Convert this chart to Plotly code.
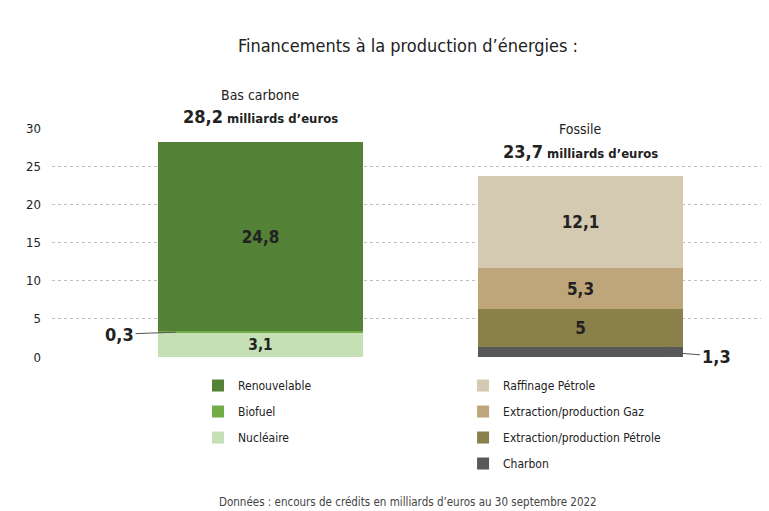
import plotly.graph_objects as go

# ---- data ----
groups = ["Bas carbone", "Fossile"]
group_x = [0, 1]
totals_label = ["28,2", "23,7"]

low_names = ["Nucléaire", "Biofuel", "Renouvelable"]          # bottom -> top
low_values = [3.1, 0.3, 24.8]
low_colors = ["#c5e0b4", "#70ad47", "#538135"]

fos_names = ["Charbon", "Extraction/production Pétrole", "Extraction/production Gaz", "Raffinage Pétrole"]
fos_values = [1.3, 5.0, 5.3, 12.1]
fos_colors = ["#595959", "#8a8049", "#bfa67a", "#d4c9b1"]

y_ticks = [0, 5, 10, 15, 20, 25, 30]

FONT = "DejaVu Sans Condensed, DejaVu Sans, sans-serif"
DARK = "#222222"


def F(size, color=DARK):
    return dict(family=FONT, size=size, color=color)


def fmt(v):
    s = ("%.1f" % v).rstrip("0").rstrip(".")
    return s.replace(".", ",")


fig = go.Figure()
BAR_W = 0.64
small_threshold = 1.5

for names, vals, cols, gx, leg in [
    (low_names, low_values, low_colors, group_x[0], "legend"),
    (fos_names, fos_values, fos_colors, group_x[1], "legend2"),
]:
    for i, (n, v, c) in enumerate(zip(names, vals, cols)):
        fig.add_trace(go.Bar(
            x=[gx], y=[v], name=n, marker=dict(color=c, line=dict(width=0)),
            width=BAR_W,
            text=[fmt(v)] if v >= small_threshold else None,
            textposition="inside" if v >= small_threshold else "none",
            insidetextanchor="middle", textangle=0,
            textfont=F(17),
            texttemplate="<b>%{text}</b>" if v >= small_threshold else None,
            legend=leg, legendgroup=n, legendrank=1000 - i, hoverinfo="skip",
        ))

# small-value callouts with leader lines
fig.add_annotation(x=group_x[0] - BAR_W / 2 + 0.056, y=low_values[0] + low_values[1] / 2,
                   text="<b>%s</b>" % fmt(low_values[1]), showarrow=True, arrowhead=0,
                   arrowwidth=1, arrowcolor="#555555", ax=-56, ay=2, standoff=0,
                   font=F(18))
fig.add_annotation(x=group_x[1] + BAR_W / 2 - 0.056, y=fos_values[0] / 2,
                   text="<b>%s</b>" % fmt(fos_values[0]), showarrow=True, arrowhead=0,
                   arrowwidth=1, arrowcolor="#555555", ax=51, ay=4, standoff=0,
                   font=F(18))

# group headers above bars
for gx, g, tot, tl in [(group_x[0], groups[0], sum(low_values), totals_label[0]),
                       (group_x[1], groups[1], sum(fos_values), totals_label[1])]:
    fig.add_annotation(x=gx, y=tot, yshift=25, showarrow=False,
                       text="<b><span style='font-size:18px'>%s</span> milliards d’euros</b>" % tl,
                       font=F(13), bgcolor="white")
    fig.add_annotation(x=gx, y=tot, yshift=47, showarrow=False, text=g,
                       font=F(14), bgcolor="white")

# footer
fig.add_annotation(xref="paper", yref="paper", x=0.5007, y=-0.633, showarrow=False,
                   xanchor="center", yanchor="middle",
                   text="Données : encours de crédits en milliards d’euros au 30 septembre 2022",
                   font=F(11.5, "#444444"))

legend_common = dict(xref="container", yref="container", xanchor="left", yanchor="top",
                     traceorder="grouped", tracegroupgap=7, bgcolor="rgba(0,0,0,0)",
                     font=F(12))

fig.update_layout(
    width=761, height=503,
    margin=dict(l=44, r=6, t=120, b=154, autoexpand=False),
    paper_bgcolor="white", plot_bgcolor="white",
    barmode="stack", bargap=0,
    showlegend=True,
    title=dict(text="Financements à la production d’énergies :", x=0.5256, xref="container",
               xanchor="center", y=0.926, yref="container", yanchor="middle",
               font=F(18)),
    font=dict(family=FONT, color=DARK),
    xaxis=dict(range=[-0.65, 1.57], showticklabels=False, showgrid=False, zeroline=False,
               fixedrange=True),
    yaxis=dict(range=[0, 30], tickvals=y_ticks, showgrid=True, gridcolor="#c0c0c0",
               griddash="dot", gridwidth=1, zeroline=False, ticklabelstandoff=10,
               tickfont=F(13)),
    legend=dict(x=0.2497, y=0.2783, **legend_common),
    legend2=dict(x=0.598, y=0.2783, **legend_common),
)

fig.write_html("out.html")
